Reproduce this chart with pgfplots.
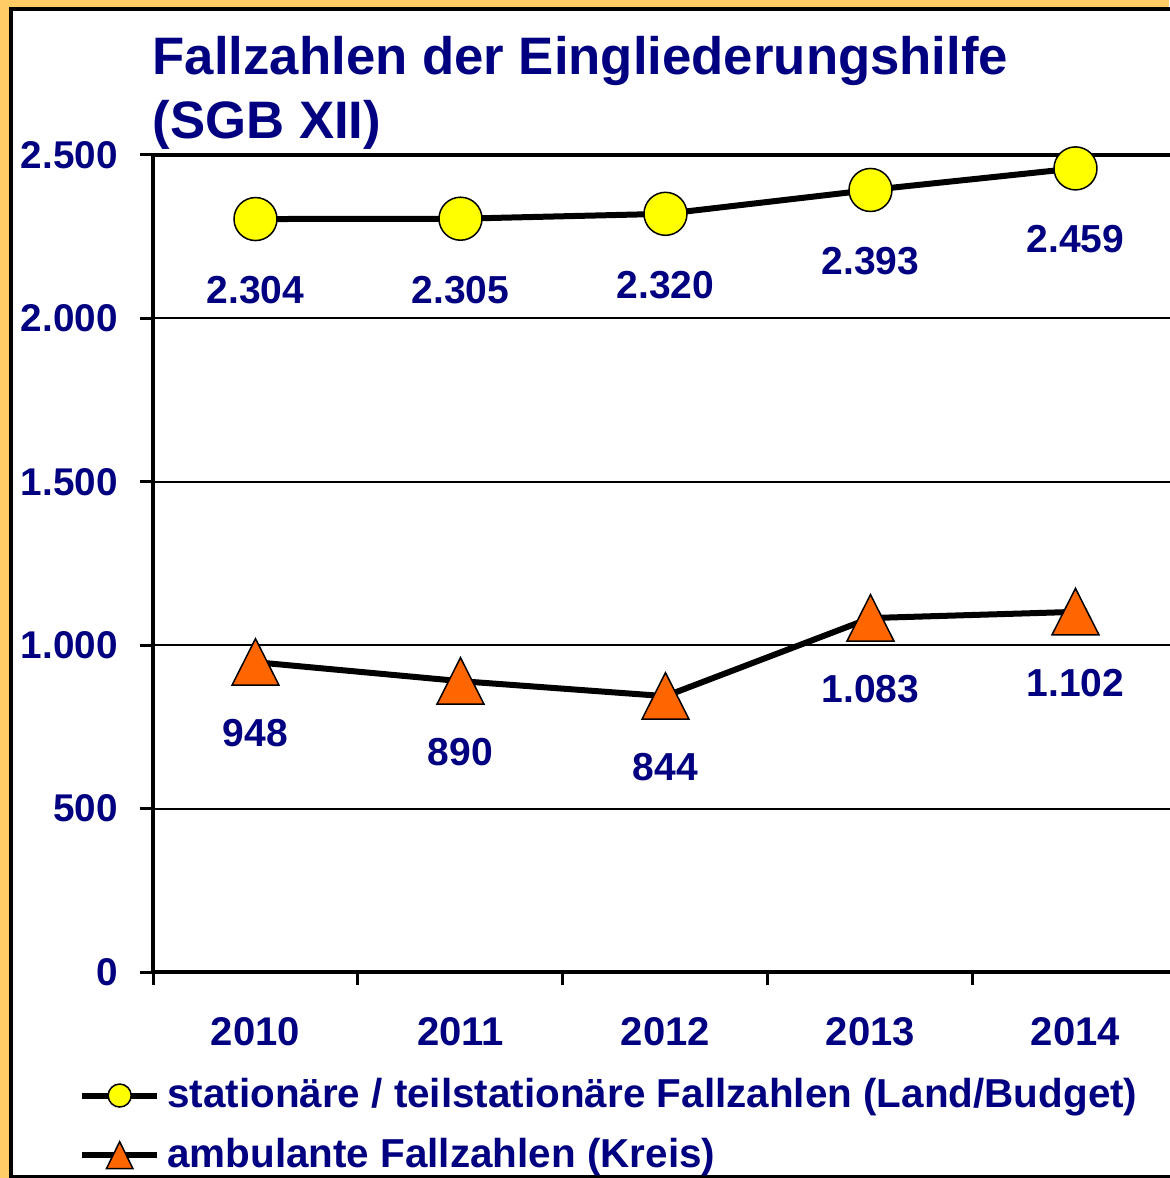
\documentclass[border=0pt]{standalone}
\usepackage{pgfplots}
\pgfplotsset{compat=1.18}
\usepackage{fontspec}
\setmainfont{Liberation Sans}
\definecolor{navy}{HTML}{000080}
\definecolor{frameorange}{HTML}{FFCC66}
\definecolor{markyellow}{HTML}{FFFF00}
\definecolor{markorange}{HTML}{FF6600}
\pgfplotsset{/pgf/number format/.cd, 1000 sep={.}, assume math mode=true}
\begin{document}
\begin{tikzpicture}
  \path[use as bounding box] (0,0) rectangle (116.9mm,117.8mm);
  \fill[frameorange] (0,0) rectangle (116.9mm,117.8mm);
  \filldraw[fill=white, draw=black, line width=0.4mm] (1.1mm,0.1mm) rectangle (125mm,116.9mm);
  % Titel
  \node[anchor=base west, inner sep=0pt, text=navy, font=\bfseries\fontsize{15}{18}\selectfont]
    at (15.2mm,110.3mm) {Fallzahlen der Eingliederungshilfe};
  \node[anchor=base west, inner sep=0pt, text=navy, font=\bfseries\fontsize{15}{18}\selectfont]
    at (15.2mm,103.9mm) {(SGB XII)};
  \begin{axis}[
      at={(15.3mm,20.6mm)}, anchor=south west,
      scale only axis,
      width=102.5mm, height=81.7mm,
      xmin=-0.5, xmax=4.5,
      ymin=0, ymax=2500,
      xtick={-0.5,0.5,1.5,2.5,3.5,4.5},
      x tick label as interval,
      xticklabels={2010,2011,2012,2013,2014},
      ytick={0,500,1000,1500,2000,2500},
      ymajorgrids,
      grid style={black, line width=0.2mm},
      axis line style={line width=0.45mm},
      tick align=outside, tick pos=left,
      major tick length=1.3mm,
      tick style={black, line width=0.3mm},
      yticklabel style={font=\bfseries\fontsize{11}{13}\selectfont, text=navy, xshift=-1mm},
      xticklabel style={font=\bfseries\fontsize{11.4}{13}\selectfont, text=navy, yshift=-2mm},
      nodes near coords,
      every node near coord/.append style={anchor=center,
        font=\bfseries\fontsize{11.1}{13}\selectfont, text=navy},
      legend style={at={(-0.083,-0.112)}, anchor=north west, draw=none, fill=none,
        font=\bfseries\fontsize{11.5}{13}\selectfont, text=navy, row sep=1.1mm},
      legend cell align=left,
      legend image code/.code={%
        \draw[mark repeat=2, mark phase=2, #1] plot coordinates {(0mm,0mm) (3.75mm,0mm) (7.5mm,0mm)};},
    ]
    \addplot[black, line width=0.6mm, mark=*, mark size=2.15mm,
      mark options={fill=markyellow, draw=black, line width=0.15mm},
      every node near coord/.append style={yshift=-7.1mm}, forget plot]
      coordinates {(0,2304) (1,2305) (2,2320) (3,2393) (4,2459)};
    \addplot[black, line width=0.6mm, mark=triangle*, mark size=3.1mm,
      mark options={fill=markorange, draw=black, line width=0.15mm, xscale=0.875, yshift=-0.75mm},
      every node near coord/.append style={yshift=-6.35mm}, forget plot]
      coordinates {(0,948) (1,890) (2,844) (3,1083) (4,1102)};
    \addlegendimage{black, line width=0.6mm, mark=*, mark size=1.15mm,
      mark options={fill=markyellow, draw=black, line width=0.15mm}}
    \addlegendentry{stationäre / teilstationäre Fallzahlen (Land/Budget)}
    \addlegendimage{black, line width=0.6mm, mark=triangle*, mark size=1.8mm,
      mark options={fill=markorange, draw=black, line width=0.15mm, xscale=0.85, yshift=-0.45mm}}
    \addlegendentry{ambulante Fallzahlen (Kreis)}
  \end{axis}
\end{tikzpicture}
\end{document}
